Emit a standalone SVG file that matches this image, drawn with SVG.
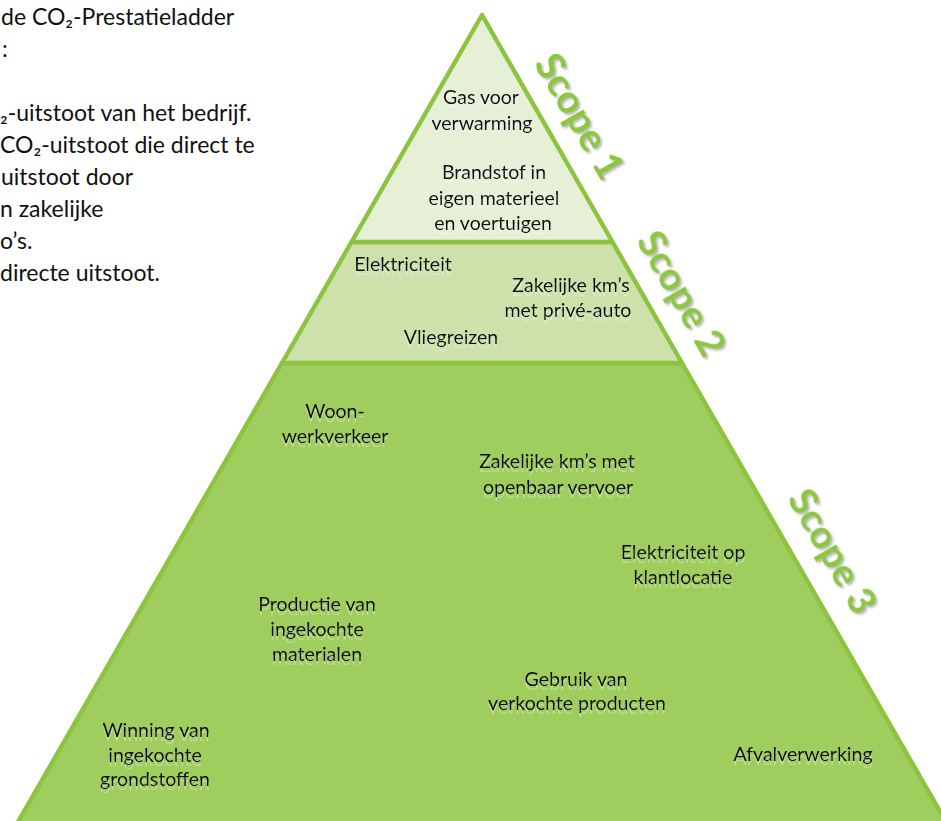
<svg xmlns="http://www.w3.org/2000/svg" width="941" height="821" viewBox="0 0 941 821">
  <defs>
    <style>
      .lbl { font-family: Lato, "Open Sans", "Liberation Sans", sans-serif; font-size: 19.5px; fill: #111; text-anchor: middle; }
      .side { font-family: Lato, "Open Sans", "Liberation Sans", sans-serif; font-size: 23px; fill: #111; }
      .scope { font-family: Lato, "Open Sans", "Liberation Sans", sans-serif; font-weight: bold; font-size: 39px; fill: #8DC63F; text-anchor: middle; }
      .tier { stroke: #8CC43F; stroke-width: 4.5; stroke-linejoin: round; }
    </style>
    <filter id="refl" x="-10%" y="-20%" width="120%" height="160%">
      <feOffset in="SourceAlpha" dy="4" result="off"/>
      <feFlood flood-color="#ffffff" flood-opacity="0.3"/>
      <feComposite in2="off" operator="in" result="ghost"/>
      <feMerge><feMergeNode in="ghost"/><feMergeNode in="SourceGraphic"/></feMerge>
    </filter>
    <filter id="shadow" x="-20%" y="-20%" width="140%" height="140%">
      <feGaussianBlur in="SourceAlpha" stdDeviation="1" result="b"/>
      <feOffset in="b" dx="2" dy="2" result="o"/>
      <feFlood flood-color="#808080" flood-opacity="0.55"/>
      <feComposite in2="o" operator="in" result="s"/>
      <feMerge><feMergeNode in="s"/><feMergeNode in="SourceGraphic"/></feMerge>
    </filter>
  </defs>

  <g id="side-text">
    <text class="side" x="1" y="25">de CO₂-Prestatieladder</text>
    <text class="side" x="2" y="57">:</text>
    <text class="side" x="0" y="121">₂-uitstoot van het bedrijf.</text>
    <text class="side" x="0" y="153">CO₂-uitstoot die direct te</text>
    <text class="side" x="1" y="185">uitstoot door</text>
    <text class="side" x="0" y="217">n zakelijke</text>
    <text class="side" x="0" y="249">o’s.</text>
    <text class="side" x="0" y="281">directe uitstoot.</text>
  </g>

  <g id="scope3-tier">
    <path class="tier" fill="#9FCD5E" d="M282,363 L682,363 L953.5,835 L10.5,835 Z"/>
  </g>
  <g id="scope2-tier">
    <path class="tier" fill="#CCE2AA" d="M351.5,242 L612.5,242 L682,363 L282,363 Z"/>
  </g>
  <g id="scope1-tier">
    <path class="tier" fill="#E6F0D6" d="M482,15 L612.5,242 L351.5,242 Z"/>
  </g>

  <g id="scope1-items" filter="url(#refl)">
    <text class="lbl" x="481" y="104">Gas voor</text>
    <text class="lbl" x="482" y="130">verwarming</text>
    <text class="lbl" x="494" y="179">Brandstof in</text>
    <text class="lbl" x="494" y="205">eigen materieel</text>
    <text class="lbl" x="493" y="230">en voertuigen</text>
  </g>

  <g id="scope2-items" filter="url(#refl)">
    <text class="lbl" x="403" y="271">Elektriciteit</text>
    <text class="lbl" x="571" y="292">Zakelijke km’s</text>
    <text class="lbl" x="568" y="317">met privé-auto</text>
    <text class="lbl" x="451" y="344">Vliegreizen</text>
  </g>

  <g id="scope3-items" filter="url(#refl)">
    <text class="lbl" x="335" y="418">Woon-</text>
    <text class="lbl" x="335" y="443">werkverkeer</text>
    <text class="lbl" x="557" y="468">Zakelijke km’s met</text>
    <text class="lbl" x="558" y="494">openbaar vervoer</text>
    <text class="lbl" x="683" y="559">Elektriciteit op</text>
    <text class="lbl" x="683" y="584">klantlocatie</text>
    <text class="lbl" x="317" y="611">Productie van</text>
    <text class="lbl" x="317" y="636">ingekochte</text>
    <text class="lbl" x="317" y="661">materialen</text>
    <text class="lbl" x="576" y="686">Gebruik van</text>
    <text class="lbl" x="577" y="710">verkochte producten</text>
    <text class="lbl" x="156" y="737">Winning van</text>
    <text class="lbl" x="155" y="762">ingekochte</text>
    <text class="lbl" x="155" y="786">grondstoffen</text>
    <text class="lbl" x="803" y="761">Afvalverwerking</text>
  </g>

  <g id="scope-labels" filter="url(#shadow)">
    <text class="scope" transform="translate(580,116) rotate(60)" y="14">Scope 1</text>
    <text class="scope" transform="translate(682,293) rotate(60)" y="14">Scope 2</text>
    <text class="scope" transform="translate(833,551) rotate(60)" y="14">Scope 3</text>
  </g>

  <g id="connectors"></g>
</svg>
